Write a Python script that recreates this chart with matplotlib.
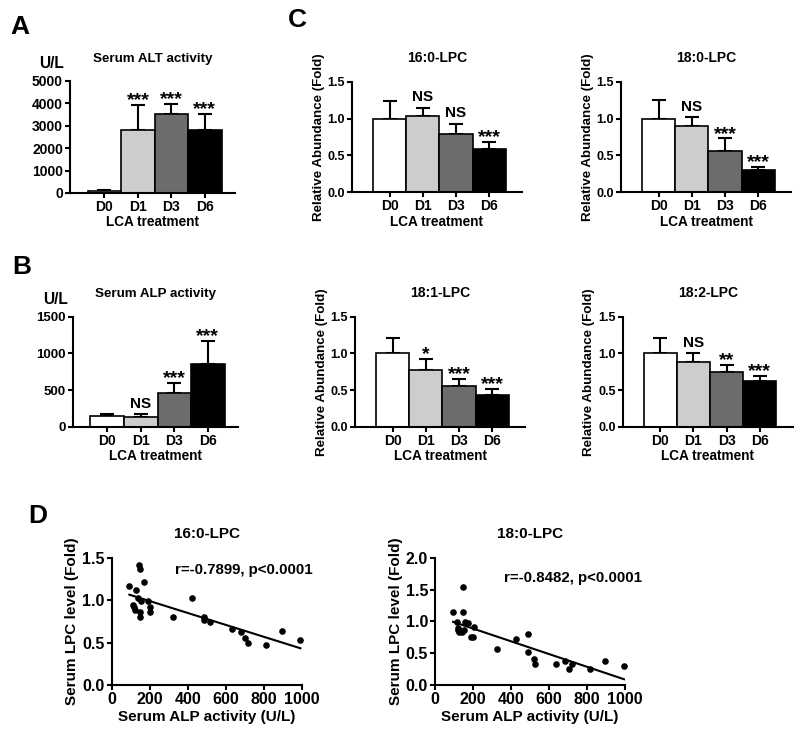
import numpy as np
import matplotlib
matplotlib.use("Agg")
import matplotlib.pyplot as plt

plt.rcParams['font.family'] = ['Liberation Sans', 'DejaVu Sans']
plt.rcParams['font.weight'] = 'bold'

W, H = 800, 737

days = ["D0", "D1", "D3", "D6"]
bar_colors = ["white", "#cdcdcd", "#6c6c6c", "black"]

# panel A / B : serum enzymes (U/L)
alt_mean = [75, 2800, 3530, 2800]
alt_err = [75, 1150, 440, 715]
alt_marks = ["", "***", "***", "***"]

alp_mean = [150, 138, 464, 855]
alp_err = [27, 30, 136, 318]
alp_marks = ["", "NS", "***", "***"]

# panel C : relative LPC abundance
lpc160_mean = [1.0, 1.04, 0.795, 0.59]
lpc160_err = [0.24, 0.11, 0.135, 0.09]
lpc160_marks = ["", "NS", "NS", "***"]

lpc180_mean = [1.0, 0.90, 0.56, 0.30]
lpc180_err = [0.25, 0.12, 0.17, 0.045]
lpc180_marks = ["", "NS", "***", "***"]

lpc181_mean = [1.0, 0.78, 0.555, 0.435]
lpc181_err = [0.21, 0.14, 0.095, 0.08]
lpc181_marks = ["", "*", "***", "***"]

lpc182_mean = [1.0, 0.88, 0.74, 0.62]
lpc182_err = [0.21, 0.12, 0.10, 0.07]
lpc182_marks = ["", "NS", "**", "***"]

# panel D : correlation with ALP
alp_160 = [93, 128, 146, 147, 172, 114, 118, 121, 151, 151, 156, 189, 204, 202,
           137, 323, 423, 486, 488, 519, 635, 679, 702, 716, 811, 895, 993]
lpc_160 = [1.17, 1.115, 1.41, 1.37, 1.21, 0.94, 0.915, 0.88, 0.856, 0.80, 0.99, 0.985,
           0.915, 0.856, 1.025, 0.797, 1.03, 0.805, 0.766, 0.738, 0.66, 0.624, 0.55,
           0.50, 0.475, 0.64, 0.53]

alp_180 = [95, 116, 119, 123, 126, 140, 149, 149, 154, 158, 175, 189, 202, 207,
           325, 426, 488, 488, 519, 525, 639, 682, 704, 723, 816, 896, 995]
lpc_180 = [1.152, 0.984, 0.90, 0.864, 0.827, 0.827, 1.534, 1.152, 0.859, 0.984, 0.969,
           0.759, 0.749, 0.911, 0.56, 0.723, 0.806, 0.518, 0.414, 0.325, 0.325, 0.372,
           0.246, 0.325, 0.251, 0.372, 0.304]


def rect(l, r, t, b):
    return [l / W, 1 - b / H, (r - l) / W, (b - t) / H]


def style(ax, lw=1.5, size=9, xsize=None):
    for s in ["top", "right"]:
        ax.spines[s].set_visible(False)
    for s in ["left", "bottom"]:
        ax.spines[s].set_linewidth(lw)
    ax.tick_params(width=lw, length=3.5, labelsize=size, pad=1.5)
    if xsize:
        ax.tick_params(axis="x", labelsize=xsize)
    for lab in ax.get_xticklabels() + ax.get_yticklabels():
        lab.set_fontweight("bold")


def bar_panel(r, mean, err, marks, ylim, yticks, ytl, title, xlim, ylabel=None,
              tsize=9.6, ysize=9.5):
    ax = fig.add_axes(r)
    x = np.arange(len(days))
    ax.errorbar(x, mean, yerr=[np.zeros(len(err)), err], fmt="none", ecolor="black",
                elinewidth=1.5, capsize=4.8, capthick=1.5, zorder=1, clip_on=False)
    ax.bar(x, mean, width=1.0, color=bar_colors, edgecolor="black", linewidth=1.2, zorder=2)
    for xi, m, e, t in zip(x, mean, err, marks):
        if not t:
            continue
        if "*" in t:
            ax.annotate(t, (xi, m + e), xytext=(0, -3), textcoords="offset points",
                        ha="center", va="bottom", fontsize=14, fontweight="bold",
                        annotation_clip=False)
        else:
            ax.annotate(t, (xi, m + e), xytext=(0, 2.5), textcoords="offset points",
                        ha="center", va="bottom", fontsize=11, fontweight="bold",
                        annotation_clip=False)
    ax.set_xlim(*xlim)
    ax.set_ylim(*ylim)
    ax.set_yticks(yticks)
    ax.set_yticklabels(ytl)
    ax.set_xticks(x)
    ax.set_xticklabels(days)
    ax.set_xlabel("LCA treatment", fontsize=9.8, fontweight="bold", labelpad=1)
    ax.set_title(title, fontsize=tsize, fontweight="bold", pad=14)
    if ylabel:
        ax.set_ylabel(ylabel, fontsize=9.6, fontweight="bold", labelpad=2)
    style(ax, size=ysize, xsize=10)
    return ax


fig = plt.figure(figsize=(W / 100, H / 100), dpi=100)

# A
bar_panel(rect(70, 235, 81, 193), alt_mean, alt_err, alt_marks, (0, 5000),
          [0, 1000, 2000, 3000, 4000, 5000], ["0", "1000", "2000", "3000", "4000", "5000"],
          "Serum ALT activity", (-1.03, 3.9), ysize=10)
fig.text(52 / W, 1 - 64 / H, "U/L", fontsize=11.2, fontweight="bold", ha="center", va="center")
fig.text(20 / W, 1 - 27 / H, "A", fontsize=19, fontweight="bold", ha="center", va="center")

# B
bar_panel(rect(72.7, 238, 316.7, 426.7), alp_mean, alp_err, alp_marks, (0, 1500),
          [0, 500, 1000, 1500], ["0", "500", "1000", "1500"],
          "Serum ALP activity", (-1.03, 3.9), ysize=9.5)
fig.text(55 / W, 1 - 299 / H, "U/L", fontsize=11.2, fontweight="bold", ha="center", va="center")
fig.text(22 / W, 1 - 267 / H, "B", fontsize=19, fontweight="bold", ha="center", va="center")

# C
lpc_ticks = [0, 0.5, 1.0, 1.5]
lpc_tl = ["0.0", "0.5", "1.0", "1.5"]
ylab = "Relative Abundance (Fold)"
for r, m, e, mk, t in [
        (rect(352, 522, 81.7, 192.3), lpc160_mean, lpc160_err, lpc160_marks, "16:0-LPC"),
        (rect(621, 791, 81.7, 192.3), lpc180_mean, lpc180_err, lpc180_marks, "18:0-LPC"),
        (rect(355, 525, 316.7, 426.7), lpc181_mean, lpc181_err, lpc181_marks, "18:1-LPC"),
        (rect(622.7, 792.7, 316.7, 426.7), lpc182_mean, lpc182_err, lpc182_marks, "18:2-LPC")]:
    bar_panel(r, m, e, mk, (0, 1.5), lpc_ticks, lpc_tl, t, (-1.13, 3.99), ylab,
              tsize=10, ysize=9)
fig.text(297 / W, 1 - 20 / H, "C", fontsize=19, fontweight="bold", ha="center", va="center")


# D
def scatter_panel(r, xs, ys, ylim, yticks, title, label, lx, ly):
    ax = fig.add_axes(r)
    xs = np.array(xs, float)
    ys = np.array(ys, float)
    ax.scatter(xs, ys, s=14, color="black", zorder=3, clip_on=False)
    k, b0 = np.polyfit(xs, ys, 1)
    xx = np.array([xs.min(), xs.max()])
    ax.plot(xx, k * xx + b0, color="black", lw=1.5)
    ax.set_xlim(0, 1000)
    ax.set_ylim(*ylim)
    ax.set_xticks([0, 200, 400, 600, 800, 1000])
    ax.set_yticks(yticks)
    ax.set_yticklabels(["%.1f" % v for v in yticks])
    ax.set_title(title, fontsize=11, fontweight="bold", pad=14)
    ax.set_xlabel("Serum ALP activity (U/L)", fontsize=11, fontweight="bold", labelpad=2)
    ax.set_ylabel("Serum LPC level (Fold)", fontsize=11, fontweight="bold", labelpad=2)
    ax.text(lx, ly, label, transform=ax.transAxes, ha="center", va="center",
            fontsize=10.8, fontweight="bold")
    style(ax, lw=1.5, size=11.5)
    return ax


scatter_panel(rect(111.7, 301.7, 557.7, 685), alp_160, lpc_160, (0, 1.5),
              [0, 0.5, 1.0, 1.5], "16:0-LPC", "r=-0.7899, p<0.0001", 0.696, 0.903)
scatter_panel(rect(435, 625, 557.7, 685), alp_180, lpc_180, (0, 2.0),
              [0, 0.5, 1.0, 1.5, 2.0], "18:0-LPC", "r=-0.8482, p<0.0001", 0.726, 0.84)
fig.text(38 / W, 1 - 516 / H, "D", fontsize=19, fontweight="bold", ha="center", va="center")

fig.savefig("out.png", dpi=100)
